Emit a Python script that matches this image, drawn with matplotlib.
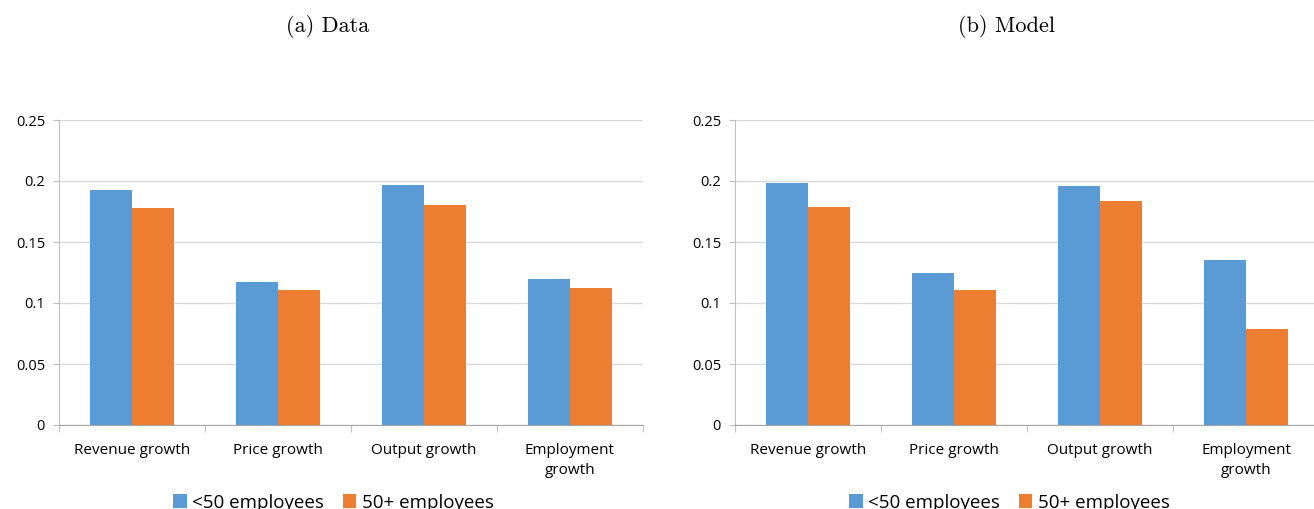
import matplotlib.pyplot as plt
import numpy as np

# categories and values
categories = ['Revenue growth', 'Price growth', 'Output growth', 'Employment\ngrowth']
data_small = [0.193, 0.117, 0.197, 0.120]
data_large = [0.178, 0.111, 0.180, 0.112]
model_small = [0.198, 0.125, 0.196, 0.135]
model_large = [0.179, 0.111, 0.184, 0.079]
titles = ['(a) Data', '(b) Model']
series_names = ['<50 employees', '50+ employees']

blue = '#5B9BD5'
orange = '#ED7D31'

fig = plt.figure(figsize=(13.14, 5.09), dpi=100)

panels = [(data_small, data_large), (model_small, model_large)]
lefts = [59 / 1314, 735 / 1314]
width = 584 / 1314
bottom = 1 - 425 / 509
height = 305 / 509
title_x = [328 / 1314, 1006 / 1314]

for k in range(2):
    ax = fig.add_axes([lefts[k], bottom, width, height])
    x = np.arange(len(categories))
    w = 0.288
    ax.bar(x - w / 2, panels[k][0], w, color=blue, label=series_names[0], zorder=3)
    ax.bar(x + w / 2, panels[k][1], w, color=orange, label=series_names[1], zorder=3)
    ax.set_xlim(-0.5, 3.5)
    ax.set_ylim(0, 0.25)
    ax.set_yticks([0, 0.05, 0.1, 0.15, 0.2, 0.25])
    ax.set_yticklabels(['0', '0.05', '0.1', '0.15', '0.2', '0.25'], fontfamily='Open Sans', fontsize=10.5)
    ax.yaxis.grid(True, color='#d9d9d9', linewidth=1, zorder=0)
    # category ticks at boundaries, labels at centres
    ax.set_xticks([-0.5, 0.5, 1.5, 2.5, 3.5])
    ax.set_xticklabels([])
    ax.set_xticks(x, minor=True)
    ax.set_xticklabels(categories, minor=True, fontfamily='Open Sans', fontsize=11,
                       linespacing=1.45)
    ax.tick_params(axis='x', which='minor', length=0, pad=13)
    ax.tick_params(axis='x', which='major', length=5, color='#bfbfbf')
    ax.tick_params(axis='y', length=4, color='#bfbfbf', pad=6)
    for s in ['top', 'right']:
        ax.spines[s].set_visible(False)
    ax.spines['left'].set_color('#bfbfbf')
    ax.spines['bottom'].set_color('#a6a6a6')
    ax.legend(loc='upper center', bbox_to_anchor=(0.47, -0.2), ncol=2, frameon=False,
              prop={'family': 'Open Sans', 'size': 13.5}, handlelength=0.7, handleheight=0.7,
              handletextpad=0.3, columnspacing=1.0, borderaxespad=0)
    fig.text(title_x[k], 1 - 27 / 509, titles[k], ha='center', va='center',
             fontfamily='cmr10', fontsize=16)

fig.savefig('out.png', dpi=100)
